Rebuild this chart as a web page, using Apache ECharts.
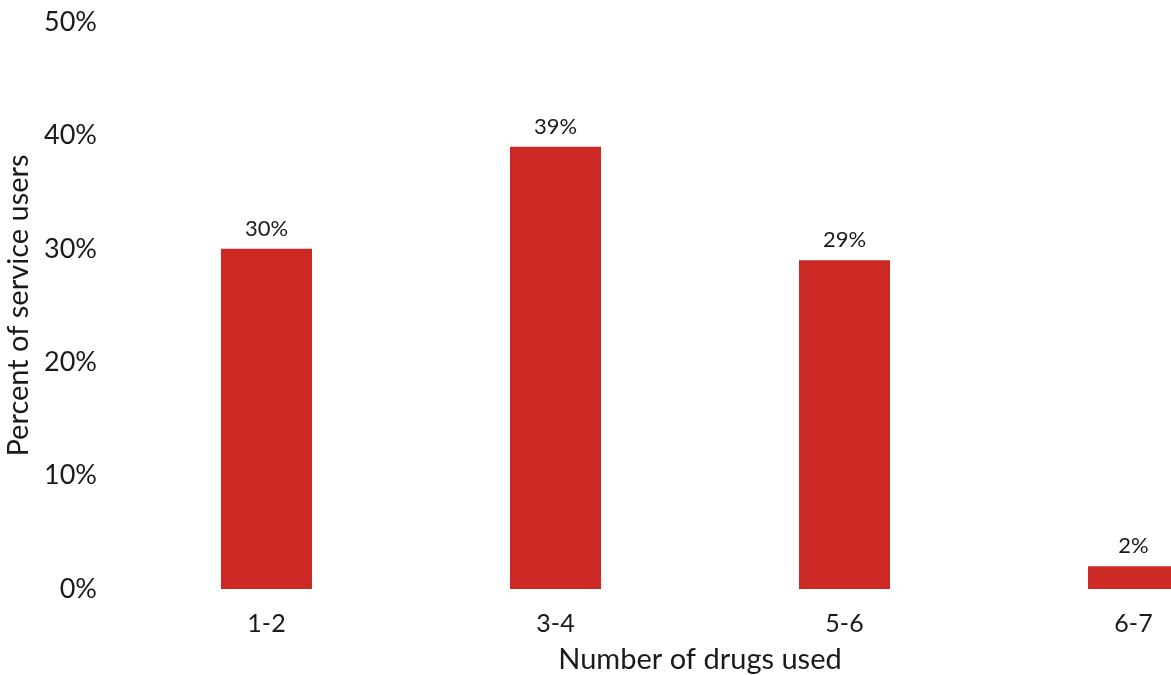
<!DOCTYPE html>
<html>
<head>
<meta charset="utf-8">
<script src="https://cdn.jsdelivr.net/npm/echarts@6/dist/echarts.min.js"></script>
<style>
html,body{margin:0;padding:0;background:#fff;}
#chart{width:1171px;height:675px;}
</style>
</head>
<body>
<div id="chart"></div>
<script>
const categories = ['1-2', '3-4', '5-6', '6-7'];
const values = [30, 39, 29, 2];
const yTicks = [0, 10, 20, 30, 40, 50];

const FONT = 'Lato';
const chart = echarts.init(document.getElementById('chart'), null, {renderer: 'canvas'});
chart.setOption({
  animation: false,
  backgroundColor: '#ffffff',
  grid: {left: 122, width: 1156, top: 22, height: 567, containLabel: false, outerBoundsMode: 'none'},
  xAxis: {
    type: 'category',
    data: categories,
    name: 'Number of drugs used',
    nameLocation: 'middle',
    nameGap: 56,
    nameTextStyle: {fontFamily: FONT, fontSize: 29, color: '#1a1a1a'},
    axisLine: {show: false},
    axisTick: {show: false},
    axisLabel: {fontFamily: FONT, fontSize: 25, color: '#1a1a1a', margin: 22}
  },
  yAxis: {
    type: 'value',
    min: yTicks[0],
    max: yTicks[yTicks.length - 1],
    interval: 10,
    name: 'Percent of service users',
    nameLocation: 'middle',
    nameGap: 85,
    nameTextStyle: {fontFamily: FONT, fontSize: 29, color: '#1a1a1a'},
    axisLine: {show: false},
    axisTick: {show: false},
    splitLine: {show: false},
    axisLabel: {fontFamily: FONT, fontSize: 27, color: '#1a1a1a', margin: 25, formatter: '{value}%'}
  },
  series: [{
    type: 'bar',
    data: values,
    barWidth: '31.5%',
    itemStyle: {color: '#cc2824'},
    label: {
      show: true,
      position: 'top',
      distance: 9,
      fontFamily: FONT,
      fontSize: 22,
      color: '#1a1a1a',
      formatter: '{c}%'
    }
  }]
});
</script>
</body>
</html>
